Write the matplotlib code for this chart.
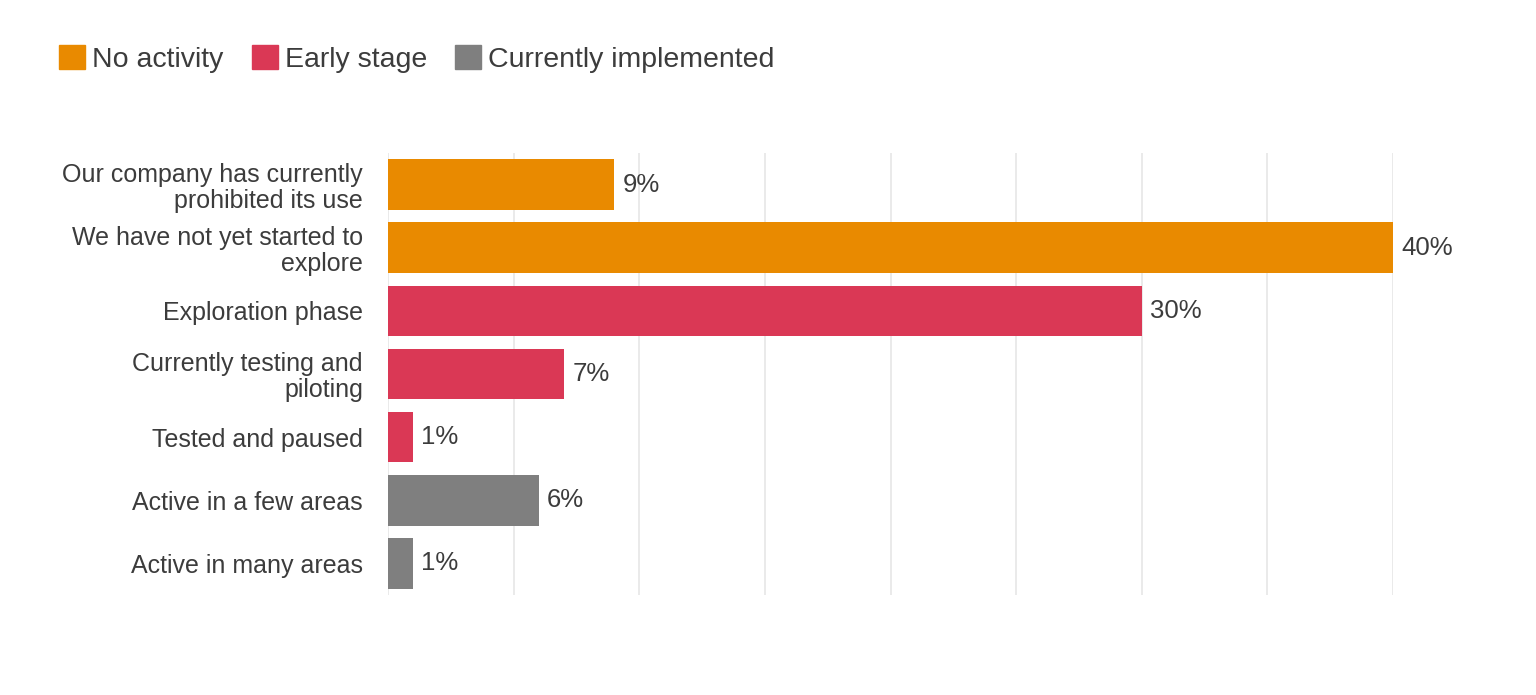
import matplotlib.pyplot as plt
from matplotlib.patches import Patch

plt.rcParams['font.family'] = ['Liberation Sans', 'DejaVu Sans']

labels = ['Our company has currently\nprohibited its use',
          'We have not yet started to\nexplore',
          'Exploration phase',
          'Currently testing and\npiloting',
          'Tested and paused',
          'Active in a few areas',
          'Active in many areas']
values = [9, 40, 30, 7, 1, 6, 1]
groups = ['No activity', 'No activity', 'Early stage', 'Early stage',
          'Early stage', 'Currently implemented', 'Currently implemented']
group_names = ['No activity', 'Early stage', 'Currently implemented']
group_colors = {'No activity': '#E98A00',
                'Early stage': '#DA3855',
                'Currently implemented': '#7F7F7F'}

text_color = '#3c3c3c'

fig = plt.figure(figsize=(15.36, 6.95), dpi=100)
ax = fig.add_axes([388 / 1536, 1 - 595 / 695, (1393 - 388) / 1536, (595 - 153) / 695])

ypos = list(range(len(labels)))
colors = [group_colors[g] for g in groups]
ax.barh(ypos, values, height=0.8, color=colors, zorder=2)

for y, v in zip(ypos, values):
    ax.annotate(f'{v}%', (v, y), xytext=(6, 0), textcoords='offset points',
                va='center', ha='left', fontsize=18.5, color=text_color)

ax.set_xlim(0, 40)
ax.set_ylim(len(labels) - 0.5, -0.5)
ax.set_xticks(range(0, 41, 5))
ax.set_xticklabels([])
ax.set_yticks(ypos)
ax.set_yticklabels(labels, fontsize=18, color=text_color, linespacing=1.1)
ax.tick_params(axis='both', length=0)
ax.tick_params(axis='y', pad=18)
ax.grid(axis='x', color='#e6e6e6', linewidth=1.2, zorder=0)
for s in ax.spines.values():
    s.set_visible(False)

handles = [Patch(color=group_colors[g], label=g) for g in group_names]
fig.legend(handles=handles, loc='upper left', bbox_to_anchor=(48 / 1536, 1 - 34 / 695),
           ncol=3, frameon=False, fontsize=20.5, handlelength=0.9, handleheight=0.9,
           handletextpad=0.25, columnspacing=1.0, labelcolor=text_color,
           borderaxespad=0)

fig.savefig('out.png', dpi=100, facecolor='white')
